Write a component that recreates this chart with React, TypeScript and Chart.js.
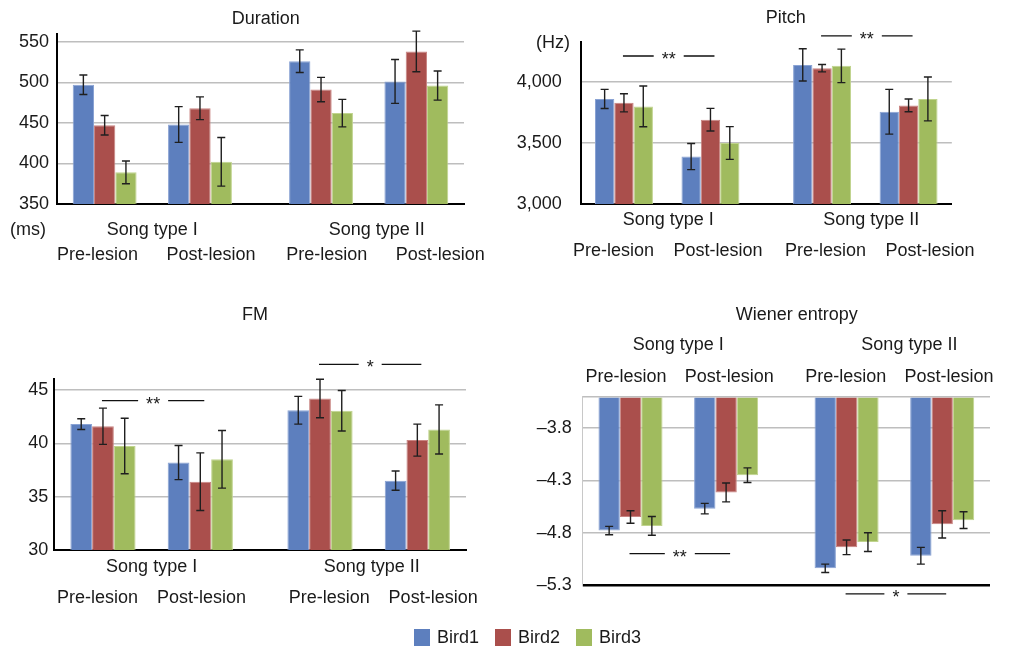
import React, { useEffect, useRef } from 'react';
import { Chart, registerables, CategoryScale } from 'chart.js';

Chart.register(...registerables);

// Category scale whose two halves (song types) are separated by an extra gap.
class GappedCategoryScale extends CategoryScale {
  static id = 'gappedCategory';
  getPixelForValue(value: any) {
    if (typeof value !== 'number') value = (this as any).parse(value);
    if (value === null || value === undefined || isNaN(value)) return NaN;
    const o: any = this.options;
    const gap = o.groupGap ?? 0;
    const padL = o.padStart ?? 0;
    const padR = o.padEnd ?? 0;
    const n = this.getLabels().length;
    const u = value + 0.5 + (value >= n / 2 ? gap : 0) + padL;
    return this.getPixelForDecimal(u / (n + gap + padL + padR));
  }
}
Chart.register(GappedCategoryScale as any);

// ---------------- data ----------------
const groupLabels = ['Pre-lesion', 'Post-lesion', 'Pre-lesion', 'Post-lesion'];
const songTypes = ['Song type I', 'Song type II'];
const birds = ['Bird1', 'Bird2', 'Bird3'];
const birdColors = ['#5D7FBE', '#AA4F4C', '#A0BB5E'];
const birdEdges = ['#8AA3D4', '#C98482', '#C0D48E'];

const durationBird1 = [497, 448, 526, 501];
const durationBird2 = [447, 468, 491, 538];
const durationBird3 = [389, 402, 462, 496];
const durationErr1 = [12, 22, 14, 27];
const durationErr2 = [12, 14, 15, 25];
const durationErr3 = [14, 30, 17, 18];
const durationTicks = [350, 400, 450, 500, 550];

const pitchBird1 = [3861, 3389, 4140, 3756];
const pitchBird2 = [3829, 3691, 4113, 3808];
const pitchBird3 = [3800, 3500, 4132, 3861];
const pitchErr1 = [78, 107, 132, 183];
const pitchErr2 = [74, 93, 30, 52];
const pitchErr3 = [167, 134, 137, 180];
const pitchTicks = [3000, 3500, 4000];
const pitchSig = [
  { from: 0, to: 1, at: 4213, mark: '**' },
  { from: 2, to: 3, at: 4378, mark: '**' },
];

const fmBird1 = [41.8, 38.2, 43.1, 36.5];
const fmBird2 = [41.6, 36.4, 44.2, 40.3];
const fmBird3 = [39.75, 38.5, 43.05, 41.3];
const fmErr1 = [0.5, 1.6, 1.3, 0.9];
const fmErr2 = [1.7, 2.7, 1.8, 1.5];
const fmErr3 = [2.6, 2.7, 1.9, 2.3];
const fmTicks = [30, 35, 40, 45];
const fmSig = [
  { from: 0, to: 1, at: 44.0, mark: '**' },
  { from: 2, to: 3, at: 47.4, mark: '*' },
];

const wienerBird1 = [-4.78, -4.57, -5.14, -5.02];
const wienerBird2 = [-4.65, -4.415, -4.94, -4.72];
const wienerBird3 = [-4.735, -4.25, -4.89, -4.68];
const wienerErr1 = [0.04, 0.05, 0.04, 0.08];
const wienerErr2 = [0.06, 0.09, 0.07, 0.13];
const wienerErr3 = [0.09, 0.07, 0.09, 0.08];
const wienerTicks = [-5.3, -4.8, -4.3, -3.8];
const wienerSig = [
  { from: 0, to: 1, at: -5.0, mark: '**' },
  { from: 2, to: 3, at: -5.385, mark: '*' },
];

// ---------------- layout ----------------
const W = 1014;
const H = 648;
const FONT = "'Liberation Sans', Arial, Helvetica, sans-serif";
const FS = 18;
const TEXT = '#1a1a1a';
const GRID = '#BEBEBE';
const X2_H = 70;

type Sig = { from: number; to: number; at: number; mark: string };
type Panel = {
  key: string;
  title: string;
  titlePos: [number, number];
  area: { left: number; top: number; right: number; bottom: number };
  yMin: number;
  yMax: number;
  ticks: number[];
  fmt: (v: number) => string;
  tickPad: number;
  means: number[][];
  errs: number[][];
  barGap: number;
  lbl: { gap: number; padL: number; padR: number; pad: number };
  songDy: number;
  songDx: number[];
  xTop: boolean;
  base?: number;
  unit?: { text: string; x: number; y: number };
  sig: Sig[];
  gridAtMax: boolean;
};

const panels: Panel[] = [
  {
    key: 'duration', title: 'Duration', titlePos: [265.7, 19],
    area: { left: 57, top: 33.6, right: 464, bottom: 204 },
    yMin: 350, yMax: 560, ticks: durationTicks, fmt: (v) => String(v), tickPad: 8,
    means: [durationBird1, durationBird2, durationBird3],
    errs: [durationErr1, durationErr2, durationErr3],
    barGap: 0.27, lbl: { gap: 0.02, padL: -0.143, padR: -0.291, pad: 40.2 },
    songDy: 26, songDx: [0, 8], xTop: false,
    unit: { text: '(ms)', x: 28, y: 230 }, sig: [], gridAtMax: false,
  },
  {
    key: 'pitch', title: 'Pitch', titlePos: [785.7, 18.3],
    area: { left: 580.7, top: 41.7, right: 987, bottom: 204 },
    yMin: 3000, yMax: 4330, ticks: pitchTicks, fmt: (v) => v.toLocaleString('en-US'), tickPad: 19,
    means: [pitchBird1, pitchBird2, pitchBird3],
    errs: [pitchErr1, pitchErr2, pitchErr3],
    barGap: 0.29, lbl: { gap: 0.03, padL: -0.185, padR: -0.29, pad: 35.9 },
    songDy: 16, songDx: [1, 6], xTop: false,
    unit: { text: '(Hz)', x: 553, y: 43 }, sig: pitchSig, gridAtMax: false,
  },
  {
    key: 'fm', title: 'FM', titlePos: [255, 315],
    area: { left: 54.3, top: 379.3, right: 466, bottom: 550 },
    yMin: 30, yMax: 46, ticks: fmTicks, fmt: (v) => String(v), tickPad: 6,
    means: [fmBird1, fmBird2, fmBird3],
    errs: [fmErr1, fmErr2, fmErr3],
    barGap: 0.23, lbl: { gap: 0.228, padL: -0.085, padR: -0.184, pad: 37.5 },
    songDy: 16.7, songDx: [0, 3], xTop: false,
    sig: fmSig, gridAtMax: false,
  },
  {
    key: 'wiener', title: 'Wiener entropy', titlePos: [796.7, 315],
    area: { left: 582.7, top: 396.7, right: 990, bottom: 585 },
    yMin: -5.3, yMax: -3.5, ticks: wienerTicks,
    fmt: (v) => '\u2013' + Math.abs(v).toFixed(1), tickPad: 11,
    means: [wienerBird1, wienerBird2, wienerBird3],
    errs: [wienerErr1, wienerErr2, wienerErr3],
    barGap: 0.26, lbl: { gap: 0.13, padL: -0.08, padR: -0.103, pad: 9.2 },
    songDy: -51.7, songDx: [0, 15], xTop: true, base: -3.5,
    sig: wienerSig, gridAtMax: true,
  },
];

function overlayPlugin(p: Panel) {
  return {
    id: 'overlay_' + p.key,
    afterDatasetsDraw(chart: any) {
      const ctx = chart.ctx;
      const ys = chart.scales.y;
      ctx.save();
      ctx.strokeStyle = '#1f1f1f';
      ctx.lineWidth = 1.4;
      p.means.forEach((series, di) => {
        const meta = chart.getDatasetMeta(di);
        series.forEach((m, i) => {
          const el = meta.data[i];
          if (!el) return;
          const x = el.x;
          const e = p.errs[di][i];
          const y1 = ys.getPixelForValue(m + e);
          const y2 = ys.getPixelForValue(m - e);
          ctx.beginPath();
          ctx.moveTo(x, y1);
          ctx.lineTo(x, y2);
          ctx.moveTo(x - 4, y1);
          ctx.lineTo(x + 4, y1);
          ctx.moveTo(x - 4, y2);
          ctx.lineTo(x + 4, y2);
          ctx.stroke();
        });
      });
      ctx.restore();
    },
    afterDraw(chart: any) {
      const ctx = chart.ctx;
      const xs = chart.scales.x;
      const ys = chart.scales.y;
      const area = chart.chartArea;
      ctx.save();
      ctx.font = `${FS}px ${FONT}`;
      ctx.fillStyle = TEXT;
      ctx.textAlign = 'center';
      ctx.textBaseline = 'middle';
      ctx.fillText(p.title, p.titlePos[0], p.titlePos[1]);
      const yy = p.xTop ? area.top + p.songDy : area.bottom + p.songDy;
      songTypes.forEach((s, k) => {
        const a = xs.getPixelForValue(k * 2);
        const b = xs.getPixelForValue(k * 2 + 1);
        ctx.fillText(s, (a + b) / 2 + p.songDx[k], yy);
      });
      if (p.unit) ctx.fillText(p.unit.text, p.unit.x, p.unit.y);
      ctx.strokeStyle = '#111';
      ctx.lineWidth = 1.3;
      p.sig.forEach((s) => {
        const x1 = xs.getPixelForValue(s.from) - 1;
        const x2 = xs.getPixelForValue(s.to) + 4;
        const y = ys.getPixelForValue(s.at);
        const mid = (x1 + x2) / 2;
        const half = ctx.measureText(s.mark).width / 2 + 8;
        ctx.beginPath();
        ctx.moveTo(x1, y);
        ctx.lineTo(mid - half, y);
        ctx.moveTo(mid + half, y);
        ctx.lineTo(x2, y);
        ctx.stroke();
        ctx.fillText(s.mark, mid, y + 4);
      });
      ctx.restore();
    },
  };
}

function buildConfig(p: Panel): any {
  const font = { family: FONT, size: FS };
  const tickValues = p.gridAtMax ? [...p.ticks, p.yMax] : p.ticks;
  const yW = p.area.left - 4;
  const padding = p.xTop
    ? { left: 4, right: W - p.area.right, top: p.area.top - X2_H, bottom: H - p.area.bottom }
    : { left: 4, right: W - p.area.right, top: p.area.top, bottom: H - p.area.bottom - X2_H };
  const pos = p.xTop ? 'top' : 'bottom';
  return {
    type: 'bar',
    data: {
      labels: groupLabels,
      datasets: p.means.map((vals, i) => ({
        label: birds[i],
        data: vals,
        backgroundColor: birdColors[i],
        borderColor: birdEdges[i],
        borderWidth: 1,
        categoryPercentage: 0.67,
        barPercentage: 1.0,
        xAxisID: 'x',
        yAxisID: 'y',
        ...(p.base !== undefined ? { base: p.base } : {}),
      })),
    },
    options: {
      responsive: false,
      animation: false,
      events: [],
      layout: { padding },
      plugins: { legend: { display: false }, tooltip: { enabled: false }, title: { display: false } },
      scales: {
        x: {
          type: 'gappedCategory',
          position: pos,
          weight: 0,
          offset: true,
          groupGap: p.barGap,
          afterFit: (s: any) => { s.height = 0; },
          ticks: { display: false },
          grid: { display: false, drawTicks: false },
          border: { display: !p.xTop, color: '#000', width: 2 },
        },
        x2: {
          type: 'gappedCategory',
          axis: 'x',
          position: pos,
          weight: 1,
          offset: true,
          groupGap: p.lbl.gap,
          padStart: p.lbl.padL,
          padEnd: p.lbl.padR,
          afterFit: (s: any) => { s.height = X2_H; },
          ticks: { autoSkip: false, maxRotation: 0, minRotation: 0, padding: p.lbl.pad, font, color: TEXT },
          grid: { display: false, drawTicks: false },
          border: { display: false },
        },
        y: {
          type: 'linear',
          min: p.yMin,
          max: p.yMax,
          afterBuildTicks: (s: any) => { s.ticks = tickValues.map((v) => ({ value: v })); },
          afterFit: (s: any) => { s.width = yW; },
          ticks: {
            padding: p.tickPad,
            font,
            color: TEXT,
            callback: (v: any) => (p.gridAtMax && v === p.yMax ? '' : p.fmt(Number(v))),
          },
          grid: {
            drawTicks: false,
            color: (c: any) => {
              const v = c.tick && c.tick.value;
              if (v === p.yMin) return p.xTop ? '#000' : 'rgba(0,0,0,0)';
              return GRID;
            },
            lineWidth: (c: any) => {
              const v = c.tick && c.tick.value;
              if (v === p.yMin && p.xTop) return 2.5;
              return 1.5;
            },
          },
          border: p.xTop ? { display: true, color: '#C8C8C8', width: 1 } : { display: true, color: '#000', width: 2 },
        },
      },
    },
    plugins: [overlayPlugin(p)],
  };
}

function PanelChart({ panel }: { panel: Panel }) {
  const ref = useRef<HTMLCanvasElement | null>(null);
  useEffect(() => {
    if (!ref.current) return;
    const chart = new Chart(ref.current, buildConfig(panel));
    return () => chart.destroy();
  }, [panel]);
  return (
    <canvas
      ref={ref}
      width={W}
      height={H}
      style={{ position: 'absolute', left: 0, top: 0, width: W, height: H }}
    />
  );
}

export default function App() {
  return (
    <div style={{ position: 'absolute', left: 0, top: 0, width: W, height: H, background: '#fff', overflow: 'hidden' }}>
      {panels.map((p) => (
        <PanelChart key={p.key} panel={p} />
      ))}
      <div
        style={{
          position: 'absolute', left: 414, top: 629, height: 17, display: 'flex', alignItems: 'center',
          fontFamily: FONT, fontSize: FS, color: TEXT, lineHeight: '17px',
        }}
      >
        {birds.map((b, i) => (
          <div key={b} style={{ display: 'flex', alignItems: 'center', marginRight: 16 }}>
            <span style={{ display: 'inline-block', width: 16, height: 17, background: birdColors[i], marginRight: 7 }} />
            <span>{b}</span>
          </div>
        ))}
      </div>
    </div>
  );
}
